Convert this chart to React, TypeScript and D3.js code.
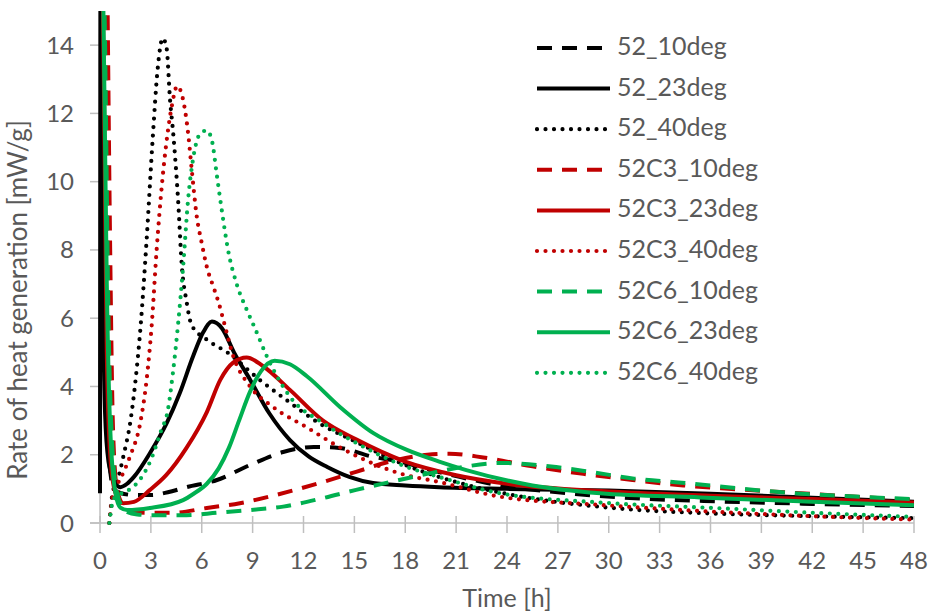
import React from "react";
import * as d3 from "d3";

type P = [number, number];

const xTicks = [0, 3, 6, 9, 12, 15, 18, 21, 24, 27, 30, 33, 36, 39, 42, 45, 48];
const yTicks = [0, 2, 4, 6, 8, 10, 12, 14];

const s52_10: P[] = [[0.04,20],[0.15,12],[0.3,5],[0.5,2.2],[0.8,1.0],[1.2,0.88],[2,0.82],[3,0.82],[4,0.9],[5.1,1.05],[6.9,1.26],[8.85,1.7],[10.8,2.08],[12.6,2.23],[14.1,2.2],[16,1.95],[17.7,1.8],[19.5,1.55],[21.2,1.35],[23.6,1.1],[27,0.9],[30.7,0.75],[36.6,0.63],[42,0.56],[48,0.5]];
const s52_23: P[] = [[0,0.87],[0.04,20],[0.1,13],[0.2,6],[0.3,3.2],[0.5,1.8],[0.8,1.25],[1.2,1.05],[1.6,1.15],[2.0,1.35],[2.95,2.05],[3.94,2.93],[4.7,3.8],[5.5,4.9],[6.1,5.6],[6.6,5.9],[7.2,5.7],[7.9,5.0],[8.85,4.2],[10,3.2],[11.2,2.43],[12.3,1.95],[13.4,1.64],[14.7,1.35],[16.1,1.17],[18,1.1],[20,1.05],[24,1.0],[30,0.95],[36,0.86],[42,0.74],[48,0.62]];
const s52_40: P[] = [[0.55,0],[0.75,0.9],[1.0,1.2],[1.4,2.0],[1.8,3.0],[2.1,4.2],[2.4,5.8],[2.75,8.3],[3.1,11.2],[3.4,13.3],[3.7,14.2],[3.93,13.9],[4.13,12.4],[4.32,11.4],[4.6,9.5],[4.83,7.5],[5.1,6.5],[5.4,5.8],[6.3,5.37],[7.5,5.0],[9.4,4.2],[11,3.6],[13,2.9],[15,2.4],[18,1.7],[21,1.2],[24,0.85],[30,0.45],[36,0.28],[42,0.2],[48,0.14]];
const s52C3_10: P[] = [[0.35,20],[0.45,15],[0.6,8],[0.77,2.7],[1.0,1.0],[1.4,0.5],[2,0.33],[2.75,0.3],[4.3,0.3],[6.3,0.44],[8.25,0.58],[10.2,0.8],[11.5,0.97],[13.15,1.2],[15.1,1.5],[17.1,1.8],[19.3,2.0],[20.6,2.03],[22.6,1.92],[25.5,1.66],[28.5,1.44],[31.4,1.26],[34.4,1.1],[36.6,1.02],[42,0.85],[48,0.67]];
const s52C3_23: P[] = [[0.05,20],[0.25,12],[0.4,5],[0.6,2],[0.9,0.9],[1.36,0.58],[2.0,0.62],[2.95,0.97],[3.9,1.4],[5.1,2.2],[6.3,3.25],[7.1,4.2],[7.85,4.7],[8.65,4.85],[9.6,4.6],[11.2,3.9],[13.15,3.0],[15.1,2.45],[18,1.8],[21,1.4],[24,1.15],[30,0.92],[36,0.8],[42,0.7],[48,0.6]];
const s52C3_40: P[] = [[0.55,0],[0.75,0.8],[1.0,1.1],[1.4,1.5],[1.77,1.95],[2.4,3.0],[2.75,4.2],[3.05,5.8],[3.34,8.0],[3.64,9.85],[3.93,11.2],[4.23,12.2],[4.55,12.8],[4.9,12.4],[5.2,11.4],[5.4,10.4],[5.7,9.0],[6.0,8.2],[6.3,7.5],[6.7,6.9],[7.0,6.45],[7.3,5.9],[7.85,4.9],[8.85,4.0],[10.2,3.4],[12.2,2.8],[14.2,2.2],[17.7,1.45],[20,1.2],[23.6,0.77],[29.5,0.53],[36.6,0.32],[42,0.2],[48,0.1]];
const s52C6_10: P[] = [[0.1,20],[0.3,14],[0.5,6],[0.7,2.5],[1.0,0.9],[1.5,0.35],[2.2,0.25],[2.95,0.23],[5.1,0.23],[6.9,0.3],[8.85,0.38],[10.8,0.48],[13.15,0.73],[15.1,0.97],[17.1,1.2],[19.5,1.46],[21.5,1.65],[23.6,1.76],[26.9,1.64],[28.9,1.5],[31.5,1.3],[34.5,1.17],[36.4,1.08],[39.7,0.92],[45.2,0.76],[48,0.7]];
const s52C6_23: P[] = [[0,20],[0.2,15],[0.4,7],[0.6,2.8],[0.9,0.9],[1.2,0.45],[1.6,0.38],[2.95,0.44],[4.9,0.67],[5.5,0.85],[6.3,1.15],[7.0,1.6],[7.6,2.2],[8.2,3.0],[8.85,3.85],[9.5,4.45],[10.3,4.75],[11.2,4.65],[12.2,4.3],[14.15,3.4],[16.1,2.64],[18.1,2.14],[20,1.8],[21.6,1.55],[25.5,1.1],[29.5,0.87],[35.4,0.75],[42,0.62],[48,0.52]];
const s52C6_40: P[] = [[0.55,0],[0.8,0.7],[1.2,0.85],[1.8,1.0],[2.4,1.3],[3.0,1.85],[3.6,2.7],[4.0,3.3],[4.3,4.4],[4.6,5.8],[4.9,7.5],[5.2,9.5],[5.5,10.7],[5.9,11.4],[6.3,11.5],[6.6,11.2],[6.9,10.15],[7.2,9.1],[7.55,8.0],[8.06,7.0],[8.65,6.25],[9.14,5.7],[9.85,4.87],[11.2,3.7],[13.15,2.93],[15.1,2.35],[18.1,1.64],[20,1.35],[23.6,0.87],[29.5,0.6],[36.6,0.43],[42,0.3],[48,0.18]];

const names = ["52_10deg","52_23deg","52_40deg","52C3_10deg","52C3_23deg","52C3_40deg","52C6_10deg","52C6_23deg","52C6_40deg"];
const seriesData = [s52_10, s52_23, s52_40, s52C3_10, s52C3_23, s52C3_40, s52C6_10, s52C6_23, s52C6_40];
const colors = ["#000000","#000000","#000000","#c00000","#c00000","#c00000","#00b050","#00b050","#00b050"];
const styles = ["dash","solid","dot","dash","solid","dot","dash","solid","dot"];

const W = 928, H = 615;
const FONT = "Lato, 'Open Sans', sans-serif";
const TXT = "#595959";
const AX = "#bfbfbf";

function strokeProps(style: string) {
  if (style === "dash") return { strokeWidth: 4, strokeDasharray: "15 10", strokeLinecap: "butt" as const };
  if (style === "dot") return { strokeWidth: 4.2, strokeDasharray: "0 8.5", strokeLinecap: "round" as const };
  return { strokeWidth: 4, strokeLinecap: "butt" as const };
}

export default function App() {
  const x = d3.scaleLinear().domain([0, 48]).range([100, 914]);
  const y = d3.scaleLinear().domain([0, 15]).range([523, 11]);
  const line = d3.line<P>().x(d => x(d[0])).y(d => y(d[1])).curve(d3.curveMonotoneX);

  return (
    <svg width={W} height={H} style={{ position: "absolute", left: 0, top: 0, background: "#fff" }} fontFamily={FONT}>
      <defs>
        <clipPath id="plot">
          <rect x={x(0) - 4} y={y(15)} width={x(48) - x(0) + 8} height={y(0) - y(15) + 6} />
        </clipPath>
      </defs>
      <line x1={x(0)} x2={x(0)} y1={y(15)} y2={y(0)} stroke={AX} strokeWidth={1.5} />
      <line x1={x(0) - 10} x2={x(48)} y1={y(0)} y2={y(0)} stroke={AX} strokeWidth={1.5} />
      {yTicks.map(t => (
        <g key={"y" + t}>
          <line x1={x(0) - 10} x2={x(0)} y1={y(t)} y2={y(t)} stroke={AX} strokeWidth={1.5} />
          <text x={74} y={y(t) + 8.5} textAnchor="end" fontSize={24} fill={TXT}>{t}</text>
        </g>
      ))}
      {xTicks.map(t => (
        <g key={"x" + t}>
          <line x1={x(t)} x2={x(t)} y1={y(0) - 7} y2={y(0) + 10} stroke={AX} strokeWidth={1.5} />
          <text x={x(t)} y={569} textAnchor="middle" fontSize={24} fill={TXT}>{t}</text>
        </g>
      ))}
      <text x={507} y={607} textAnchor="middle" fontSize={25} fill={TXT}>Time [h]</text>
      <text transform="translate(27,300) rotate(-90)" textAnchor="middle" fontSize={26} fill={TXT}>Rate of heat generation [mW/g]</text>
      <g clipPath="url(#plot)">
        {seriesData.map((d, i) => (
          <path key={names[i]} d={line(d) || ""} fill="none" stroke={colors[i]} {...strokeProps(styles[i])} strokeLinejoin="round" />
        ))}
      </g>
      {names.map((n, i) => {
        const ly = 48 + 40.6 * i;
        return (
          <g key={"lg" + n}>
            <line x1={537} x2={610} y1={ly} y2={ly} stroke={colors[i]} {...strokeProps(styles[i])} />
            <text x={617} y={ly + 7} fontSize={25} fill={TXT}>{n}</text>
          </g>
        );
      })}
    </svg>
  );
}
